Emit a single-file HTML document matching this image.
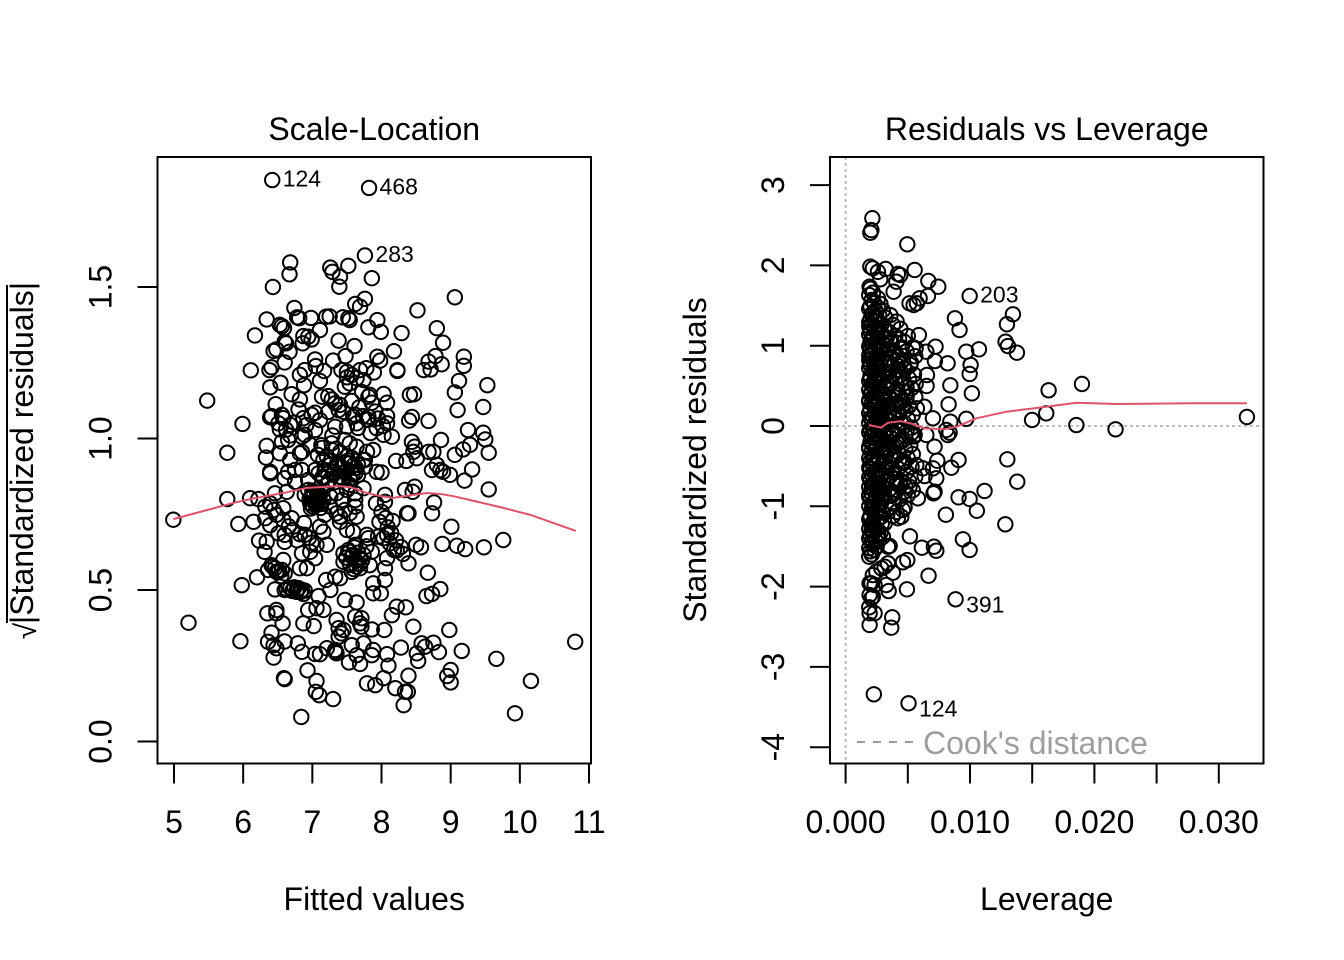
<!DOCTYPE html>
<html lang="en">
<head>
<meta charset="utf-8">
<title>Regression diagnostics</title>
<style>
html,body{margin:0;padding:0;background:#fff;}
svg{display:block;}
text{font-family:"Liberation Sans",Arial,sans-serif;fill:#000;}
</style>
</head>
<body>
<svg id="chart" xmlns="http://www.w3.org/2000/svg" width="1344" height="960" viewBox="0 0 1344 960">
<rect x="0" y="0" width="1344" height="960" fill="#fff"/>
</svg>
<script>
// ---- Scale-Location panel data ----
const fittedValues = [
6.42,7.82,7.76,6.68,6.67,6.43,7.26,7.29,7.40,7.39,
7.52,7.86,7.76,7.62,7.69,6.74,8.52,9.06,6.34,6.81,
6.78,6.98,7.20,7.25,7.44,7.52,7.54,7.94,7.81,7.99,
6.56,6.59,6.53,6.17,7.11,8.29,8.80,6.87,6.94,6.99,
6.86,6.60,6.62,7.38,7.61,8.89,6.48,6.44,6.67,7.48,
8.18,7.94,7.98,6.60,7.04,7.30,7.05,8.78,8.68,8.61,
8.71,8.87,9.19,9.19,8.23,8.23,6.11,6.41,6.38,6.89,
6.82,7.17,7.42,7.50,7.78,7.89,7.69,7.57,7.50,7.64,
7.54,7.74,7.11,6.54,6.39,6.88,7.47,9.12,9.06,9.53,
6.70,6.82,7.83,7.81,8.03,8.08,8.41,8.47,7.14,7.23,
7.28,7.57,6.47,7.40,7.33,5.48,8.08,7.81,7.62,7.45,
7.38,7.23,7.04,6.99,6.56,6.41,8.44,8.40,8.68,9.10,
9.47,5.99,6.39,6.58,6.51,6.53,6.68,6.87,6.85,6.89,
6.65,6.56,6.34,6.33,6.53,6.82,6.85,7.04,7.33,7.11,
7.59,7.64,7.50,7.93,8.08,8.15,8.03,7.28,7.28,7.54,
7.64,7.88,7.79,7.76,8.44,8.48,8.46,8.21,8.36,8.51,
8.86,8.68,8.75,9.25,9.47,9.50,9.55,9.18,9.28,9.06,
5.77,8.73,8.80,9.31,8.85,8.89,8.99,9.20,6.39,6.39,
6.65,6.60,6.85,7.04,7.09,7.26,7.16,7.54,7.50,7.62,
7.74,7.76,7.93,8.00,7.30,6.94,6.75,7.16,7.40,7.54,
7.74,8.34,8.48,8.45,9.55,8.05,7.92,8.05,8.37,8.76,
8.73,8.16,8.00,6.10,6.22,5.77,6.46,6.63,6.89,6.99,
7.04,7.09,7.11,7.06,6.97,7.01,7.16,6.94,7.02,7.12,
6.99,7.07,7.26,7.35,7.50,7.62,7.26,7.35,7.40,7.54,
7.62,7.64,6.39,6.32,6.44,6.48,6.58,6.58,6.70,6.15,
6.32,6.39,5.93,4.99,7.11,7.16,6.82,6.60,6.51,6.89,
7.40,7.50,7.59,7.79,7.95,8.08,8.39,9.01,9.76,9.48,
9.21,9.09,8.88,8.50,8.57,6.23,6.34,6.60,6.31,6.99,
7.06,6.85,6.97,7.04,7.21,7.45,7.62,7.54,7.59,7.62,
7.45,7.54,7.64,7.69,7.74,7.57,7.69,7.86,7.81,8.03,
8.12,8.22,8.39,8.08,7.83,8.05,8.05,7.88,7.88,7.99,
8.67,8.65,8.73,8.85,6.41,6.46,6.36,6.48,6.56,6.58,
6.60,6.20,5.98,6.46,6.60,6.68,6.72,6.77,6.80,6.85,
6.89,6.82,6.92,7.09,7.20,7.26,7.33,7.40,7.47,7.64,
8.15,8.22,8.35,8.46,8.04,7.86,8.98,6.94,7.06,7.16,
6.35,6.48,6.48,6.57,6.87,7.02,5.21,7.35,7.62,7.71,
7.69,7.71,7.38,7.45,7.42,7.38,6.41,6.36,6.44,6.48,
6.60,6.79,7.21,7.33,7.57,7.74,7.88,8.28,8.58,8.63,
8.75,5.96,6.44,6.85,7.04,7.11,7.35,7.64,7.86,8.51,
8.83,9.16,8.53,8.08,8.10,8.39,9.66,10.80,10.16,9.93,
9.00,8.95,9.00,8.03,7.91,8.20,8.34,8.38,8.32,7.79,
7.53,7.69,6.59,6.60,6.93,7.06,7.05,7.10,7.30,6.84,
7.33,6.97,7.14,7.40,7.47,7.08,7.57,7.18,7.37,7.66,
7.47,7.43,7.21,7.33,7.54,6.68,6.75,7.62,7.43,7.47,
7.18,
7.01,7.03,7.05,6.96,7.08,7.10,6.98,7.00,7.06,7.13,
7.42,7.48,7.52,7.58,7.63,7.45,7.55,7.60,7.66,7.50,
7.13,7.21,7.27,7.34,7.19,7.31,7.24,7.37,7.15,7.29,
7.52,7.57,7.61,7.66,7.72,7.55,7.60,7.68,7.49,7.78,
6.43,6.52,6.50,6.55,6.63,6.71,6.74,6.83,6.78,6.87,
7.68,7.73,7.80,7.86,7.91,7.72,7.66,7.84,7.95,8.02,
6.62,6.68,6.74,6.80,6.91,6.66,6.72,6.78,6.88,6.95,
8.09,8.14,8.21,8.28,7.97,8.18,8.31,8.06
];
const sqrtStdResiduals = [
1.853,1.827,1.604,1.581,1.542,1.50,1.564,1.55,1.534,1.501,
1.57,1.529,1.461,1.444,1.435,1.431,1.423,1.466,1.393,1.397,
1.40,1.398,1.402,1.403,1.40,1.397,1.391,1.391,1.367,1.352,
1.371,1.364,1.375,1.34,1.358,1.348,1.364,1.338,1.336,1.327,
1.314,1.319,1.314,1.323,1.305,1.316,1.294,1.289,1.286,1.272,
1.288,1.27,1.257,1.251,1.261,1.257,1.239,1.272,1.254,1.226,
1.228,1.245,1.27,1.24,1.226,1.223,1.225,1.235,1.226,1.226,
1.21,1.223,1.226,1.22,1.232,1.218,1.226,1.21,1.202,1.199,
1.182,1.193,1.19,1.184,1.169,1.176,1.171,1.19,1.152,1.176,
1.146,1.129,1.144,1.138,1.147,1.118,1.144,1.146,1.138,1.14,
1.129,1.124,1.113,1.111,1.116,1.125,1.074,1.072,1.078,1.088,
1.094,1.088,1.085,1.078,1.078,1.074,1.071,1.059,1.058,1.094,
1.104,1.048,1.07,1.067,1.05,1.03,1.045,1.067,1.006,1.012,
0.995,0.989,0.976,0.937,0.951,0.951,0.956,1.028,1.039,1.061,
1.072,1.05,1.039,1.034,1.05,1.006,1.012,0.984,0.962,0.984,
0.973,0.962,0.956,0.929,0.989,0.973,0.956,0.926,0.926,0.935,
0.995,0.956,0.956,1.028,1.019,0.997,0.953,0.964,0.979,0.946,
0.953,0.896,0.913,0.898,0.896,0.89,0.88,0.861,0.89,0.885,
0.89,0.869,0.896,0.896,0.885,0.913,0.929,0.918,0.896,0.885,
0.929,0.907,0.89,0.888,0.88,0.863,0.857,0.869,0.874,0.869,
0.836,0.83,0.841,0.824,0.832,0.814,0.786,0.791,0.753,0.789,
0.753,0.728,0.758,0.803,0.80,0.80,0.819,0.824,0.814,0.803,
0.791,0.803,0.814,0.786,0.786,0.775,0.797,0.83,0.823,0.771,
0.807,0.82,0.808,0.819,0.83,0.819,0.775,0.753,0.742,0.753,
0.775,0.742,0.786,0.775,0.764,0.748,0.77,0.731,0.737,0.725,
0.737,0.714,0.718,0.732,0.709,0.692,0.684,0.682,0.687,0.682,
0.725,0.698,0.692,0.682,0.676,0.682,0.753,0.709,0.665,0.641,
0.635,0.646,0.652,0.649,0.641,0.663,0.659,0.659,0.626,0.656,
0.649,0.621,0.626,0.605,0.649,0.621,0.649,0.626,0.616,0.599,
0.593,0.588,0.577,0.605,0.616,0.56,0.572,0.626,0.671,0.671,
0.654,0.63,0.588,0.605,0.582,0.572,0.533,0.522,0.489,0.489,
0.557,0.48,0.487,0.503,0.582,0.572,0.566,0.56,0.566,0.599,
0.555,0.542,0.516,0.502,0.50,0.506,0.50,0.494,0.506,0.50,
0.498,0.572,0.572,0.48,0.533,0.50,0.544,0.539,0.467,0.459,
0.417,0.445,0.443,0.379,0.368,0.37,0.368,0.434,0.44,0.434,
0.423,0.423,0.434,0.39,0.39,0.381,0.392,0.401,0.412,0.407,
0.39,0.379,0.374,0.368,0.357,0.346,0.359,0.329,0.318,0.308,
0.33,0.324,0.308,0.302,0.318,0.324,0.302,0.31,0.324,0.313,
0.326,0.331,0.277,0.296,0.289,0.288,0.291,0.285,0.285,0.291,
0.295,0.299,0.266,0.288,0.25,0.217,0.273,0.329,0.20,0.093,
0.236,0.216,0.195,0.209,0.186,0.176,0.164,0.164,0.12,0.192,
0.261,0.256,0.209,0.206,0.235,0.20,0.164,0.153,0.14,0.081,
0.296,0.979,0.969,0.955,0.995,0.946,0.936,0.896,0.913,0.913,
0.922,0.87,0.847,0.856,0.847,0.929,0.896,0.797,0.797,0.764,
0.748,
.812,.795,.779,.801,.788,.812,.769,.828,.801,.784,
.905,.891,.927,.881,.903,.866,.862,.912,.879,.941,
.978,.941,.927,.966,.893,.889,.861,.904,.874,1.01,
.632,.611,.641,.623,.598,.583,.569,.585,.607,.644,
.577,.563,.558,.546,.503,.497,.509,.493,.503,.487,
1.103,1.074,1.062,1.118,1.089,1.153,1.035,1.018,1.066,1.041,
1.029,1.01,1.052,1.096,1.044,.71,.698,.664,.721,.672,
.707,.688,.664,.642,.725,.632,.619,.738
];
const scaleLoessFitted = [4.99,5.48,5.85,6.10,6.58,6.92,7.36,7.54,7.79,7.98,8.17,8.46,8.66,8.85,9.03,9.28,9.76,10.15,10.81];
const scaleLoessValues = [0.734,0.764,0.787,0.80,0.82,0.837,0.843,0.84,0.82,0.81,0.804,0.814,0.82,0.817,0.81,0.797,0.771,0.748,0.695];
const scaleLabelNames = ["124","468","283"];
const scaleLabelFitted = [6.42,7.82,7.76];
const scaleLabelValues = [1.853,1.827,1.604];
const fittedTicks = [5,6,7,8,9,10,11];
const fittedTickLabels = ["5","6","7","8","9","10","11"];
const sqrtResidTicks = [0,0.5,1,1.5];
const sqrtResidTickLabels = ["0.0","0.5","1.0","1.5"];

// ---- Residuals vs Leverage panel data ----
const leverageValues = [
.00215,.00207,.00199,.00496,.00555,.00199,.00219,.00322,.0026,.00279,
.0042,.0044,.00408,.00193,.00386,.00665,.00745,.00662,.00595,.00514,
.00547,.00573,.0026,.00997,.00879,.00916,.01345,.01297,.01286,.01305,
.01377,.0097,.01072,.01005,.00997,.01015,.00842,.00828,.0097,.00842,
.01499,.01613,.01632,.019,.01855,.0217,.03226,.00589,.00723,.00649,
.00563,.00718,.0082,.00525,.00654,.00651,.00563,.00633,.00573,.00702,
.013,.0138,.01284,.01117,.00908,.0085,.00908,.00997,.01055,.00806,
.00943,.00997,.00517,.00613,.0071,.00729,.00667,.00493,.00496,.00461,
.00884,.0038,.00346,.00375,.00367,.00193,.00233,.00193,.0019,.00207,
.00219,.00193,.00193,.00207,.00233,.00327,.00227,.00506,.0019,.00287,
.00314,.0034,.00247,.00219,.0034,.00354,.003,.00314,.00287,.0042,
.00448,.00461,.00474,.00581,.00707,.00715,.00729,.00635,.00702,.00737,
.00715,.00649,.00822,.00836,.00809,.00555,.00528,.00514,.00474,.00568,
.00621,
.0020,.0022,.0019,.0021,.0023,.0020,.0019,.0022,.0024,.0020,
.0019,.0021,.0023,.0020,.0019,.0022,.0021,.0024,.0019,.0020,
.0022,.0019,.0021,.0023,.0020,.0019,.0022,.0024,.0020,.0019,
.0021,.0023,.0019,.0020,.0022,.0019,.0021,.0024,.0020,.0019,
.0022,.0021,.0019,.0023,.0020,.0019,.0021,.0024,.0020,.0022,
.0019,.0021,.0023,.0019,.0020,.0022,.0019,.0024,.0021,.0019,
.0020,.0022,.0019,.0023,.0021,.0019,.0020,.0022,.0019,.0021,
.0024,.0020,.0019,.0022,.0021,.0019,.0023,.0020,.0019,.0021,
.0022,.0019,.0020,.0021,
.0028,.0026,.0030,.0027,.0032,.0025,.0029,.0031,.0026,.0028,
.0033,.0025,.0030,.0027,.0029,.0032,.0026,.0031,.0028,.0025,
.0030,.0033,.0027,.0029,.0026,.0032,.0028,.0025,.0031,.0030,
.0027,.0033,.0026,.0029,.0032,.0025,.0028,.0030,.0027,.0031,
.0026,.0033,.0029,.0025,.0032,.0028,.0030,.0026,.0027,.0031,
.0033,.0025,.0029,.0028,.0032,.0026,.0030,.0027,.0031,.0025,
.0029,.0028,.0026,.0030,.0027,.0029,.0025,.0028,.0026,.0027,
.0036,.0041,.0038,.0044,.0035,.0040,.0043,.0037,.0045,.0034,
.0039,.0042,.0036,.0044,.0038,.0041,.0035,.0043,.0040,.0037,
.0045,.0034,.0039,.0042,.0036,.0044,.0041,.0038,.0035,.0043,
.0040,.0037,.0045,.0034,.0042,.0039,.0036,.0044,.0041,.0038,
.0035,.0043,.0040,.0037,.0045,.0034,.0042,.0039,.0036,.0041,
.0038,.0044,.0035,.0040,.0037,.0043,.0039,.0036,.0041,.0038,
.0050,.0047,.0054,.0049,.0056,.0046,.0052,.0048,.0055,.0051,
.0047,.0053,.0049,.0056,.0046,.0051,.0048,.0054,.0050,.0047,
.0053,.0049,.0055,.0046,.0052,.0048,.0054,.0050,.0047,.0053,
.0049,.0056,.0051,.0048,.0054,.0050,
.0024,.0021,.0023,.0019,.0025,.0022,.0020,.0026,.0024,.0021,
.0019,.0025,.0023,.0026,.0020,.0024,.0022,.0026,.0021,.0025,
.0019,.0023,.0026,.0024,.0020,.0025,.0022,.0026,.0023,.0021,
.0025,.0019,.0024,.0026,.0022,.0025,.0020,.0023,.0026,.0024,
.0021,.0025,.0019,.0023,.0026,.0022,.0024,.0020,.0025,.0023,
.0021,.0026,.0024,.0022,.0025,.0023,
.0031,.0037,.0033,.0040,.0029,.0035,.0042,.0031,.0038,.0028,
.0034,.0041,.0030,.0036,.0043,.0032,.0039,.0029,.0035,.0042,
.0031,.0037,.0028,.0033,.0040,.0030,.0036,.0043,.0032,.0038,
.0029,.0034,.0041,.0031,.0036,.0030,.0047,.0049,.0046,.0048,
.0047,.0044,.0045,.0046,.0049
];
const standardizedResiduals = [
2.587,2.44,2.407,2.263,1.943,1.984,1.964,1.955,1.92,1.827,
1.893,1.88,1.797,1.735,1.672,1.806,1.735,1.619,1.59,1.528,
1.507,1.528,1.59,1.619,1.341,1.196,1.391,1.267,1.05,.996,
.913,.925,.955,.76,.648,.407,.507,.27,.09,.054,
.075,.158,.445,.523,.012,-.041,.112,1.133,.988,.925,
.968,.809,.781,.788,.635,.498,.523,.24,.22,.096,
-.415,-.694,-1.224,-.809,-.423,-.519,-.888,-.909,-1.055,-1.105,
-1.411,-1.544,-1.374,-1.516,-1.503,-1.553,-1.864,-2.034,-1.669,-1.697,
-2.158,-1.827,-2.055,-2.382,-2.512,-2.478,-2.332,-2.332,-2.258,-2.146,
-2.126,-2.105,-1.959,-1.959,-1.98,-1.98,-3.341,-3.453,-1.628,-1.772,
-1.752,-1.71,-1.814,-1.856,-1.503,-1.494,-1.379,-1.212,-1.13,-1.149,
-1.13,-1.046,-1.012,-.9,-.838,-.818,-.651,-.623,-.527,-.432,
-.258,-.112,-.112,-.083,-.05,-.112,-.091,-.756,-.818,-.486,
-.527,
1.71,1.66,1.63,1.57,1.53,1.49,1.46,1.41,1.37,1.33,
1.29,1.26,1.22,1.18,1.14,1.10,1.07,1.03,.99,.95,
.91,.88,.84,.80,.76,.72,.68,.65,.60,.56,
.52,.48,.45,.40,.36,.32,.28,.24,.21,.16,
.12,.08,.04,.01,-.04,-.08,-.12,-.16,-.20,-.23,
-.28,-.32,-.36,-.40,-.44,-.48,-.52,-.56,-.60,-.64,
-.68,-.72,-.76,-.80,-.84,-.88,-.92,-.96,-1.00,-1.04,
-1.08,-1.12,-1.16,-1.20,-1.24,-1.28,-1.32,-1.36,-1.40,-1.44,
-1.48,-1.52,-1.56,-1.60,
1.52,1.47,1.44,1.38,1.35,1.30,1.27,1.21,1.18,1.14,
1.09,1.05,1.02,.97,.93,.90,.85,.81,.78,.73,
.69,.66,.61,.58,.53,.50,.45,.41,.38,.33,
.29,.26,.21,.17,.13,.09,.05,.01,-.03,-.07,
-.12,-.15,-.19,-.24,-.27,-.31,-.36,-.40,-.43,-.47,
-.52,-.55,-.60,-.63,-.68,-.71,-.76,-.80,-.85,-.89,
-.94,-.98,-1.03,-1.08,-1.15,-1.22,-1.28,-1.33,-1.37,-1.42,
1.38,1.30,1.26,1.21,1.17,1.12,1.08,1.03,.98,.95,
.90,.86,.83,.78,.74,.70,.67,.62,.59,.54,
.51,.47,.42,.39,.35,.31,.26,.23,.18,.15,
.11,.06,.03,-.02,-.06,-.09,-.14,-.18,-.21,-.26,
-.29,-.34,-.38,-.41,-.46,-.50,-.53,-.58,-.62,-.66,
-.70,-.74,-.79,-.83,-.87,-.92,-.97,-1.02,-1.07,-1.12,
1.12,1.05,.98,.93,.87,.82,.76,.71,.64,.59,
.53,.47,.42,.36,.31,.25,.20,.14,.09,.04,
-.02,-.07,-.13,-.18,-.24,-.29,-.35,-.40,-.46,-.51,
-.57,-.63,-.69,-.75,-.80,-.86,
1.44,1.39,1.31,1.24,1.16,1.12,1.05,1.01,.93,.89,
.82,.78,.74,.66,.62,.58,.50,.46,.42,.34,
.30,.26,.18,.14,.10,.06,-.02,-.06,-.10,-.14,
-.22,-.26,-.30,-.38,-.42,-.46,-.54,-.58,-.66,-.70,
-.78,-.82,-.86,-.94,-.98,-1.02,-1.10,-1.14,-1.18,-1.26,
-1.30,-1.34,-1.42,-1.46,-1.50,-1.54,
1.10,1.04,.96,.92,.85,.79,.75,.68,.63,.56,
.52,.44,.40,.33,.28,.22,.17,.12,.07,.00,
-.05,-.10,-.16,-.22,-.25,-.32,-.37,-.42,-.48,-.54,
-.59,-.65,-.72,-.78,-.84,-.90,.72,.48,.24,-.12,
-.44,-.68,.96,.60,.36
];
const leverageLoessX = [.00187,.00287,.0034,.00448,.00541,.00635,.00796,.0089,.01051,.01292,.01613,.01855,.02176,.02789,.03226];
const leverageLoessY = [.012,-.02,.04,.06,.025,-.03,-.04,-.01,.096,.178,.24,.29,.274,.283,.283];
const leverageLabelNames = ["203","391","124"];
const leverageLabelX = [.00997,.00884,.00506];
const leverageLabelY = [1.619,-2.158,-3.453];
const leverageTicks = [0,.005,.01,.015,.02,.025,.03];
const leverageTickLabels = ["0.000","","0.010","","0.020","","0.030"];
const resTicks = [-4,-3,-2,-1,0,1,2,3];
const resTickLabels = ["-4","-3","-2","-1","0","1","2","3"];

// ---- axis functions ----
function xLeft(v){return 174+69.17*(v-5);}
function yLeft(v){return 741.5-303*v;}
function xRight(v){return 845.6+12440*v;}
function yRight(v){return 426-80.3*v;}

const svg = document.getElementById('chart');
const NS = 'http://www.w3.org/2000/svg';
function make(tag, attrs, text){
  const el = document.createElementNS(NS, tag);
  for (const k in attrs) el.setAttribute(k, attrs[k]);
  if (text !== undefined) el.textContent = text;
  svg.appendChild(el);
  return el;
}
function seg(x1,y1,x2,y2,stroke,extra){
  return make('line', Object.assign({x1:x1,y1:y1,x2:x2,y2:y2,stroke:stroke||'#000','stroke-width':2}, extra||{}));
}

function drawPanel(p){
  // reference lines
  if (p.refLines){
    const h = seg(p.box[0],p.y(0),p.box[2],p.y(0),'#bebebe',{'stroke-dasharray':'3 3'});
    
    
    const v = seg(p.x(0),p.box[1],p.x(0),p.box[3],'#bebebe',{'stroke-dasharray':'3 3'});
    
    
  }
  // points
  for (let i=0;i<p.xs.length;i++){
    const c = make('circle',{cx:p.x(p.xs[i]).toFixed(2),cy:p.y(p.ys[i]).toFixed(2),r:7.2,fill:'none',stroke:'#000','stroke-width':2});
    
    
  }
  // smoother
  const d = p.lx.map(function(v,i){return p.x(v).toFixed(2)+','+p.y(p.ly[i]).toFixed(2);}).join(' ');
  const line = make('polyline',{points:d,fill:'none',stroke:'#DF536B','stroke-width':2,'stroke-linejoin':'round'});
  
  
  // box
  const box = make('rect',{x:p.box[0],y:p.box[1],width:p.box[2]-p.box[0],height:p.box[3]-p.box[1],fill:'none',stroke:'#000','stroke-width':2});
  
  
  // x axis
  const xa = seg(p.x(p.xTicks[0]),p.box[3],p.x(p.xTicks[p.xTicks.length-1]),p.box[3]);
  
  
  p.xTicks.forEach(function(t,i){
    const tk = seg(p.x(t),p.box[3],p.x(t),p.box[3]+20);
    
    
    if (p.xLabels[i]){
      const lb = make('text',{x:p.x(t),y:833,'font-size':32,'text-anchor':'middle'},p.xLabels[i]);
      
      
    }
  });
  // y axis
  const ya = seg(p.box[0],p.y(p.yTicks[0]),p.box[0],p.y(p.yTicks[p.yTicks.length-1]));
  
  
  p.yTicks.forEach(function(t,i){
    const tk = seg(p.box[0]-20,p.y(t),p.box[0],p.y(t));
    
    
    const ty = p.y(t), tx = p.box[0]-46;
    const lb = make('text',{x:tx,y:ty,'font-size':32,'text-anchor':'middle',transform:'rotate(-90 '+tx+' '+ty+')'},p.yLabels[i]);
    
    
  });
  // point labels
  p.labelNames.forEach(function(n,i){
    const dy = p.labelYs[i] < 0 ? 13 : 6.5;
    const lb = make('text',{x:p.x(p.labelXs[i])+10.5,y:p.y(p.labelYs[i])+dy,'font-size':23},n);
    
    
  });
  // title + x title
  const cx = (p.box[0]+p.box[2])/2;
  const title = make('text',{x:cx,y:140,'font-size':32,'text-anchor':'middle'},p.title);
  
  
  const xt = make('text',{x:cx,y:910,'font-size':32,'text-anchor':'middle'},p.xTitle);
  
  
}

drawPanel({
  id:'scale-location', box:[157.5,157,591,763.5], x:xLeft, y:yLeft,
  xs:fittedValues, ys:sqrtStdResiduals, lx:scaleLoessFitted, ly:scaleLoessValues,
  xTicks:fittedTicks, xLabels:fittedTickLabels, yTicks:sqrtResidTicks, yLabels:sqrtResidTickLabels,
  labelNames:scaleLabelNames, labelXs:scaleLabelFitted, labelYs:scaleLabelValues,
  title:'Scale-Location', xTitle:'Fitted values',
  pointName:'scale-location-point', smoothName:'scale-location-smoother', refLines:false
});
drawPanel({
  id:'residuals-leverage', box:[830,157,1263.5,763.5], x:xRight, y:yRight,
  xs:leverageValues, ys:standardizedResiduals, lx:leverageLoessX, ly:leverageLoessY,
  xTicks:leverageTicks, xLabels:leverageTickLabels, yTicks:resTicks, yLabels:resTickLabels,
  labelNames:leverageLabelNames, labelXs:leverageLabelX, labelYs:leverageLabelY,
  title:'Residuals vs Leverage', xTitle:'Leverage',
  pointName:'residuals-leverage-point', smoothName:'residuals-leverage-smoother', refLines:true
});
</script>
<svg xmlns="http://www.w3.org/2000/svg" width="1344" height="960" viewBox="0 0 1344 960" style="position:absolute;left:0;top:0;pointer-events:none">
  <text x="33" y="453" font-size="32" text-anchor="middle" transform="rotate(-90 33 453)">|Standardized residuals|</text>
  <text x="36" y="631" font-size="30" text-anchor="middle" transform="rotate(-90 36 631)">√</text>
  <line x1="7" y1="623" x2="7" y2="285" stroke="#000" stroke-width="2"/>
  <text x="706" y="460" font-size="32" text-anchor="middle" transform="rotate(-90 706 460)">Standardized residuals</text>
  <line x1="857" y1="742" x2="916" y2="742" stroke="#9e9e9e" stroke-width="2" stroke-dasharray="8 8"/>
  <text x="923" y="754" font-size="32" style="fill:#9e9e9e">Cook's distance</text>
</svg>
</body>
</html>
